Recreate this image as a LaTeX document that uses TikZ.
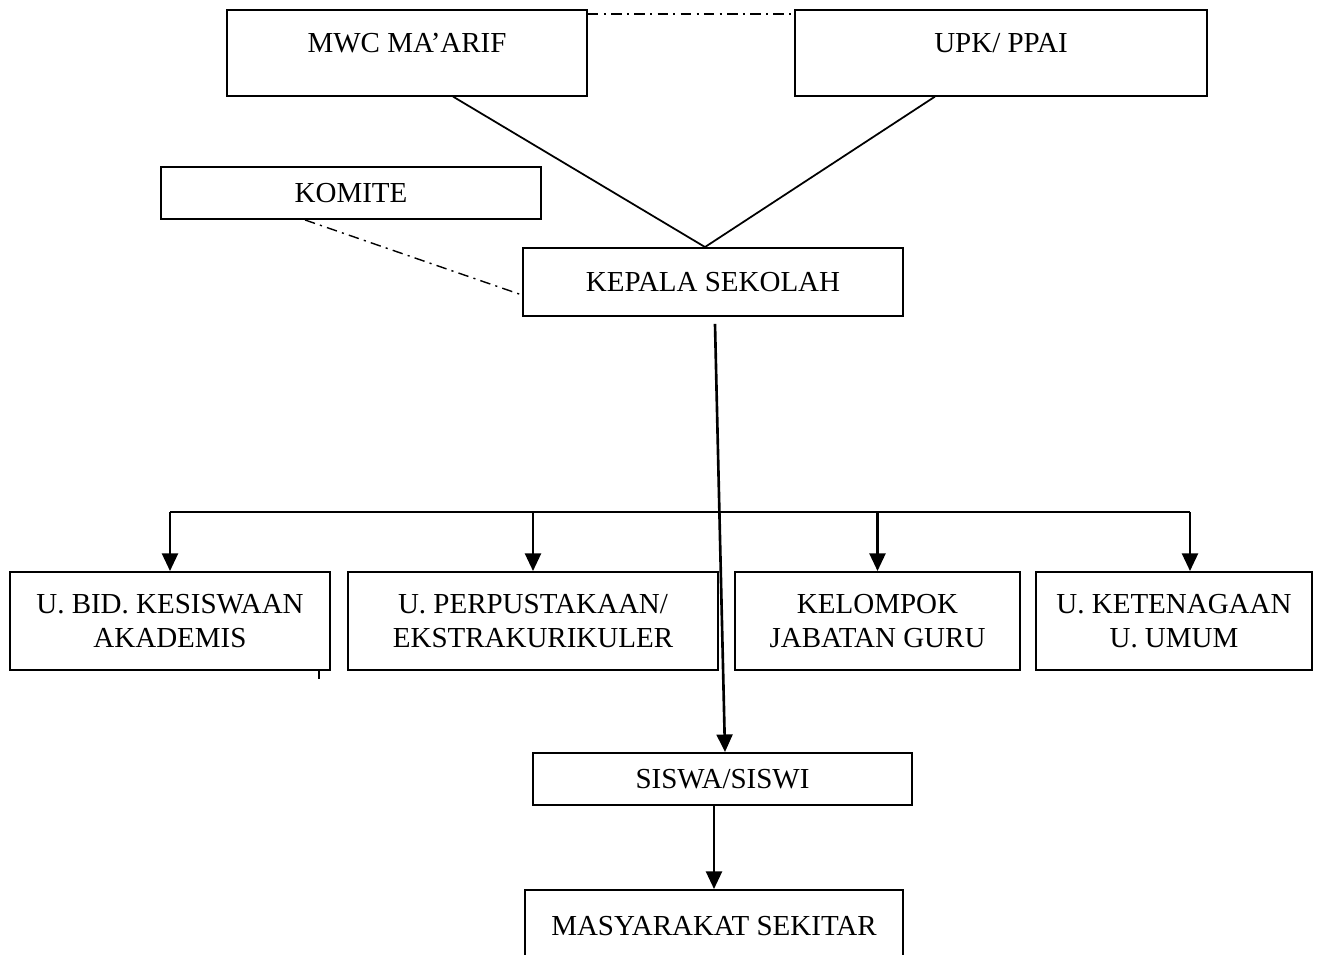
\documentclass[tikz,border=0pt]{standalone}
\usepackage{fontspec}
\setmainfont{Liberation Serif}
\usetikzlibrary{arrows.meta}

\tikzset{
	box/.style={draw, line width=1.1pt, rectangle, inner sep=0pt, align=center,
		font=\fontsize{16.5}{19}\selectfont},
	link/.style={line width=1pt},
	dashdot/.style={line width=0.8pt, dash pattern=on 6pt off 3pt on 1.2pt off 3pt},
	down/.style={line width=1.5pt, -{Triangle[length=10pt,width=9pt]}}
}

\begin{document}
\begin{tikzpicture}[x=0.02cm,y=-0.02cm]
\useasboundingbox (0,0) rectangle (1322,954);
\clip (0,0) rectangle (1322,954);
% top
\node[box, minimum width=7.2cm, text height=24pt, text depth=24.5pt] (mwc) at (407,53) {MWC MA’ARIF};
\node[box, minimum width=8.24cm, text height=24pt, text depth=24.5pt] (upk) at (1001,53) {UPK/ PPAI};
\node[box, minimum width=7.6cm, minimum height=1.04cm] (komite) at (351,193) {KOMITE};
\node[box, minimum width=7.6cm, minimum height=1.36cm] (kepala) at (713,282) {KEPALA SEKOLAH};
% units
\node[box, minimum width=6.4cm, minimum height=1.96cm] (kesiswaan) at (170,621) {U. BID. KESISWAAN\\AKADEMIS};
\node[box, minimum width=7.4cm, minimum height=1.96cm] (pustaka) at (533,621) {U. PERPUSTAKAAN/\\EKSTRAKURIKULER};
\node[box, minimum width=5.7cm, minimum height=1.96cm] (guru) at (877.5,621) {KELOMPOK\\JABATAN GURU};
\node[box, minimum width=5.52cm, minimum height=1.96cm] (tenaga) at (1174,621) {U. KETENAGAAN\\U. UMUM};
% bottom
\node[box, minimum width=7.58cm, minimum height=1.04cm] (siswa) at (722.5,779) {SISWA/SISWI};
\node[box, minimum width=7.56cm, minimum height=1.4cm, text height=12pt] (masy) at (714,925) {MASYARAKAT SEKITAR};

\coordinate (bus) at (0,512);
\coordinate (tenagain) at ([xshift=0.32cm]tenaga.north);
\coordinate (apex) at ([xshift=-0.16cm]kepala.north);

\draw[dashdot] (mwc.east |- 0,14) -- (upk.west |- 0,14);
\draw[link] (453,0 |- mwc.south) -- (apex);
\draw[link] (935,0 |- upk.south) -- (apex);
\draw[dashdot] (305,0 |- komite.south) -- (kepala.west |- 0,295);

\draw[line width=1pt] (kesiswaan.north |- bus) -- (tenagain |- bus);
\draw[down] (kesiswaan.north |- bus) -- (kesiswaan.north);
\draw[down] (pustaka.north |- bus) -- (pustaka.north);
\draw[down] (guru.north |- bus) -- (guru.north);
\draw[down] (tenagain |- bus) -- (tenagain);
\draw[line width=0.8pt] ([xshift=-0.24cm]kesiswaan.south east) -- ++(0,8);

\draw[down] ([xshift=0.04cm,yshift=-0.14cm]kepala.south) -- ([xshift=0.05cm]siswa.north);
\draw[down] (siswa.south -| masy.north) -- (masy.north);
\end{tikzpicture}
\end{document}
